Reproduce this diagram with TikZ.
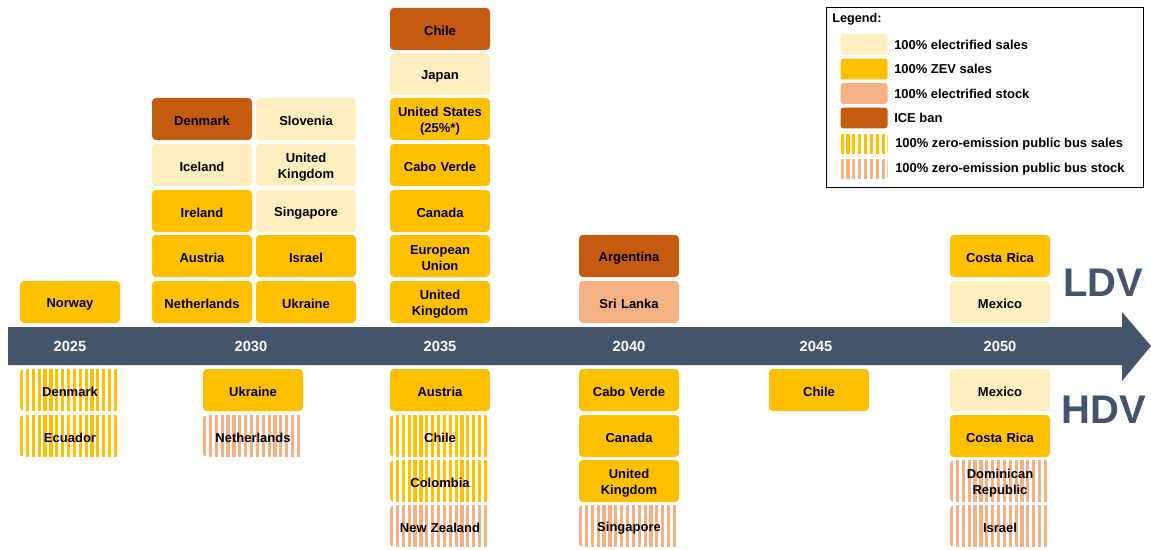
\documentclass[tikz,border=0pt]{standalone}
\usepackage{fontspec}
\setmainfont{Liberation Sans}
\definecolor{elec}{HTML}{FFEEBE}
\definecolor{zevc}{HTML}{FFC000}
\definecolor{stockc}{HTML}{F4B183}
\definecolor{icec}{HTML}{C55A11}
\definecolor{arrowc}{HTML}{44546A}
\tikzset{
  box/.style={rounded corners=3pt, minimum width=75pt, minimum height=31.5pt, inner sep=1pt,
    align=center, text width=72pt, font=\bfseries\fontsize{9.75}{11.8}\selectfont, text=black,
    execute at begin node={\rule{0pt}{10.2pt}}},
  lightbox/.style={box, fill=elec},
  zevbox/.style={box, fill=zevc},
  stockbox/.style={box, fill=stockc},
  icebox/.style={box, fill=icec},
  stripefill/.style={path picture={\foreach \k in {0,...,18}{\draw[line width=2.4pt,#1]
      ([xshift=\k*4.4pt+1.2pt]path picture bounding box.south west) --
      ([xshift=\k*4.4pt+1.2pt]path picture bounding box.north west);}}},
  salesbox/.style={box, stripefill=zevc},
  stockstripebox/.style={box, stripefill=stockc},
  yearlbl/.style={font=\bfseries\fontsize{11}{13}\selectfont, text=white},
  bigtag/.style={font=\bfseries\fontsize{30}{34}\selectfont, text=arrowc},
  swatch/.style={rounded corners=2pt, minimum width=35.25pt, minimum height=15.5pt, inner sep=0pt},
  legtext/.style={anchor=west, font=\bfseries\fontsize{9.7}{11}\selectfont, inner sep=0pt}
}
\begin{document}
\begin{tikzpicture}[x=0.75pt,y=-0.75pt]
\useasboundingbox (0,0) rectangle (1151,549);
% timeline arrow
\fill[arrowc] (8,327) -- (1122,327) -- (1122,312) -- (1151,346) -- (1122,381) -- (1122,365) -- (8,365) -- cycle;
\node[yearlbl] (y2025) at (70,346) {2025};
\node[yearlbl] (y2030) at (251,346) {2030};
\node[yearlbl] (y2035) at (440,346) {2035};
\node[yearlbl] (y2040) at (629,346) {2040};
\node[yearlbl] (y2045) at (816,346) {2045};
\node[yearlbl] (y2050) at (1000,346) {2050};
\node[bigtag] (ldv) at (1103,283) {LDV};
\node[bigtag] (hdv) at (1104,410) {HDV};
% LDV 2025
\node[zevbox] (l25a) at (70,302) {Norway};
% LDV 2030
\node[icebox] (l30a1) at (202,119) {Denmark};
\node[lightbox] (l30a2) at (202,165) {Iceland};
\node[zevbox] (l30a3) at (202,211) {Ireland};
\node[zevbox] (l30a4) at (202,256) {Austria};
\node[zevbox] (l30a5) at (202,302) {Netherlands};
\node[lightbox] (l30b1) at (306,119) {Slovenia};
\node[lightbox] (l30b2) at (306,165) {United\\Kingdom};
\node[lightbox] (l30b3) at (306,211) {Singapore};
\node[zevbox] (l30b4) at (306,256) {Israel};
\node[zevbox] (l30b5) at (306,302) {Ukraine};
% LDV 2035
\node[icebox] (l35a) at (440,29) {Chile};
\node[lightbox] (l35b) at (440,74) {Japan};
\node[zevbox] (l35c) at (440,119) {United States\\(25\%*)};
\node[zevbox] (l35d) at (440,165) {Cabo Verde};
\node[zevbox] (l35e) at (440,211) {Canada};
\node[zevbox] (l35f) at (440,256) {European\\Union};
\node[zevbox] (l35g) at (440,302) {United\\Kingdom};
% LDV 2040
\node[icebox] (l40a) at (629,256) {Argentina};
\node[stockbox] (l40b) at (629,302) {Sri Lanka};
% LDV 2050
\node[zevbox] (l50a) at (1000,256) {Costa Rica};
\node[lightbox] (l50b) at (1000,302) {Mexico};
% HDV 2025
\node[salesbox] (h25a) at (70,390) {Denmark};
\node[salesbox] (h25b) at (70,436) {Ecuador};
% HDV 2030
\node[zevbox] (h30a) at (253,390) {Ukraine};
\node[stockstripebox] (h30b) at (253,436) {Netherlands};
% HDV 2035
\node[zevbox] (h35a) at (440,390) {Austria};
\node[salesbox] (h35b) at (440,436) {Chile};
\node[salesbox] (h35c) at (440,481) {Colombia};
\node[stockstripebox] (h35d) at (440,526) {New Zealand};
% HDV 2040
\node[zevbox] (h40a) at (629,390) {Cabo Verde};
\node[zevbox] (h40b) at (629,436) {Canada};
\node[zevbox] (h40c) at (629,481) {United\\Kingdom};
\node[stockstripebox] (h40d) at (629,526) {Singapore};
% HDV 2045
\node[zevbox] (h45a) at (819,390) {Chile};
% HDV 2050
\node[lightbox] (h50a) at (1000,390) {Mexico};
\node[zevbox] (h50b) at (1000,436) {Costa Rica};
\node[stockstripebox] (h50c) at (1000,481) {Dominican\\Republic};
\node[stockstripebox] (h50d) at (1000,526) {Israel};
% legend
\node[draw=black, line width=0.9pt, minimum width=237.75pt, minimum height=135pt, anchor=north west, inner sep=0pt] (legbox) at (826,7) {};
\node[anchor=west, font=\bfseries\fontsize{9.5}{11}\selectfont, inner sep=0pt] (legtitle) at (832,19) {Legend:};
\node[swatch, fill=elec] (sw1) at (864,44.5) {};
\node[swatch, fill=zevc] (sw2) at (864,69) {};
\node[swatch, fill=stockc] (sw3) at (864,93.5) {};
\node[swatch, fill=icec] (sw4) at (864,118) {};
\node[swatch, stripefill=zevc] (sw5) at (864,144) {};
\node[swatch, stripefill=stockc] (sw6) at (864,169) {};
\node[legtext] (lt1) at (894,45) {100\% electrified sales};
\node[legtext] (lt2) at (894,69) {100\% ZEV sales};
\node[legtext] (lt3) at (894,93.5) {100\% electrified stock};
\node[legtext] (lt4) at (894,118) {ICE ban};
\node[legtext] (lt5) at (895,144) {100\% zero-emission public bus sales};
\node[legtext] (lt6) at (895,169) {100\% zero-emission public bus stock};
\end{tikzpicture}
\end{document}
